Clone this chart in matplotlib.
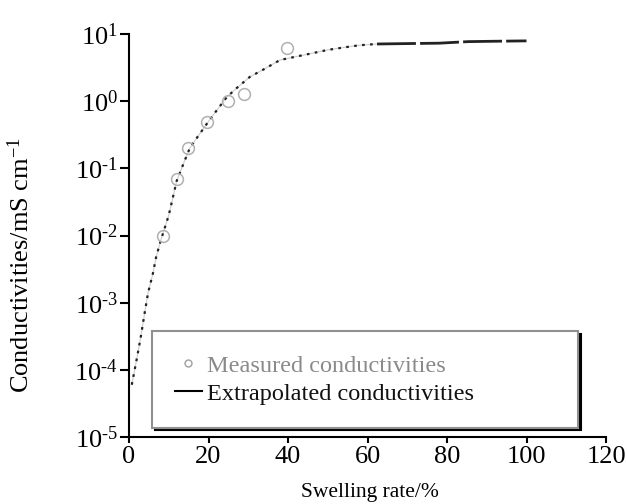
import matplotlib
matplotlib.use("Agg")
import matplotlib.pyplot as plt
from matplotlib.lines import Line2D
import numpy as np

# Measured conductivities (mS/cm) vs swelling rate (%)
measured_x = [8.6, 12.0, 14.9, 19.7, 25.0, 29.0, 39.7]
measured_y = [0.010, 0.069, 0.20, 0.49, 1.0, 1.26, 6.2]

# Extrapolated curve
curve_x = [0.7, 2, 3, 4, 4.8, 6, 6.8, 8, 9, 10, 12, 14, 15.3, 17, 19.9, 22,
           24.6, 27, 30.4, 34, 38, 42, 46.3, 50, 54.8, 58, 62.4]
curve_y = [6e-5, 1.5e-4, 3.2e-4, 7.4e-4, 1.4e-3, 2.7e-3, 4.7e-3, 8.5e-3,
           0.013, 0.02, 0.065, 0.13, 0.2, 0.28, 0.49, 0.72, 1.15, 1.55, 2.3,
           3.0, 4.1, 4.6, 5.2, 5.8, 6.4, 6.8, 7.1]
tail_x = [62.4, 70, 78, 85.3, 92, 100]
tail_y = [7.1, 7.2, 7.3, 7.7, 7.8, 7.9]

x_ticks = [0, 20, 40, 60, 80, 100, 120]
y_ticks = [1e-5, 1e-4, 1e-3, 1e-2, 1e-1, 1e0, 1e1]
y_tick_labels = [r"$10^{\text{-}5}$", r"$10^{\text{-}4}$", r"$10^{\text{-}3}$",
                 r"$10^{\text{-}2}$", r"$10^{\text{-}1}$", r"$10^{0}$", r"$10^{1}$"]
legend_labels = ["Measured conductivities", "Extrapolated conductivities"]
xlabel = "Swelling rate/%"
ylabel = "Conductivities/mS cm$^{-1}$"

plt.rcParams["font.family"] = ["Liberation Serif", "DejaVu Serif"]
plt.rcParams["mathtext.fontset"] = "custom"
plt.rcParams["mathtext.rm"] = "Liberation Serif"
plt.rcParams["mathtext.it"] = "Liberation Serif:italic"
plt.rcParams["mathtext.bf"] = "Liberation Serif:bold"

fig = plt.figure(figsize=(6.27, 5.04), dpi=100)
ax = fig.add_axes([129/627, 1-437/504, 477/627, 403/504])

ax.set_yscale("log")
ax.set_xlim(0, 120)
ax.set_ylim(1e-5, 1e1)

ax.plot(curve_x, curve_y, color="#cccccc", lw=0.8, zorder=2)
ax.plot(curve_x, curve_y, color="#222222", lw=1.6, linestyle=(0, (1.2, 2.4)), zorder=3)
ax.plot(tail_x, tail_y, color="#222222", lw=2.0, linestyle=(0, (14, 1.5)), zorder=3)
ax.plot(measured_x, measured_y, linestyle="none", marker="o", markersize=8.5,
        markerfacecolor="none", markeredgecolor="#b0b0b0", markeredgewidth=1.1, zorder=4)

for s in ["top", "right"]:
    ax.spines[s].set_visible(False)
for s in ["left", "bottom"]:
    ax.spines[s].set_linewidth(1.5)
    ax.spines[s].set_color("black")

ax.set_xticks(x_ticks)
ax.set_xticklabels([str(v) for v in x_ticks])
ax.set_yticks(y_ticks)
ax.set_yticklabels(y_tick_labels)
ax.yaxis.set_minor_locator(matplotlib.ticker.NullLocator())
ax.tick_params(axis="both", direction="out", width=1.5, labelsize=19)
ax.tick_params(axis="x", length=4.5, pad=2)
ax.tick_params(axis="y", length=6.5, pad=1.5)

fig.text(370/627, 1-493/504, xlabel, ha="center", va="center", fontsize=15.5)
fig.text(21/627, 1-265/504, ylabel, ha="center", va="center", rotation=90, fontsize=19)

handles = [
    Line2D([], [], linestyle="none", marker="o", markersize=5,
           markerfacecolor="none", markeredgecolor="#a0a0a0", markeredgewidth=1.0),
    Line2D([], [], color="black", lw=1.5),
]
leg = ax.legend(handles, legend_labels, loc="upper left",
                bbox_to_anchor=(0.048, 0.262, 0.893, 0.0), mode="expand",
                fontsize=17.5, frameon=True, fancybox=False,
                shadow={"color": "black", "alpha": 1.0},
                handlelength=1.1, handletextpad=0.2, labelspacing=0.25,
                borderpad=0.95, borderaxespad=0)
leg.get_frame().set_edgecolor("#909090")
leg.get_frame().set_linewidth(1.5)
texts = leg.get_texts()
texts[0].set_color("#8a8a8a")
texts[1].set_color("#111111")

fig.savefig("out.png", dpi=100)
